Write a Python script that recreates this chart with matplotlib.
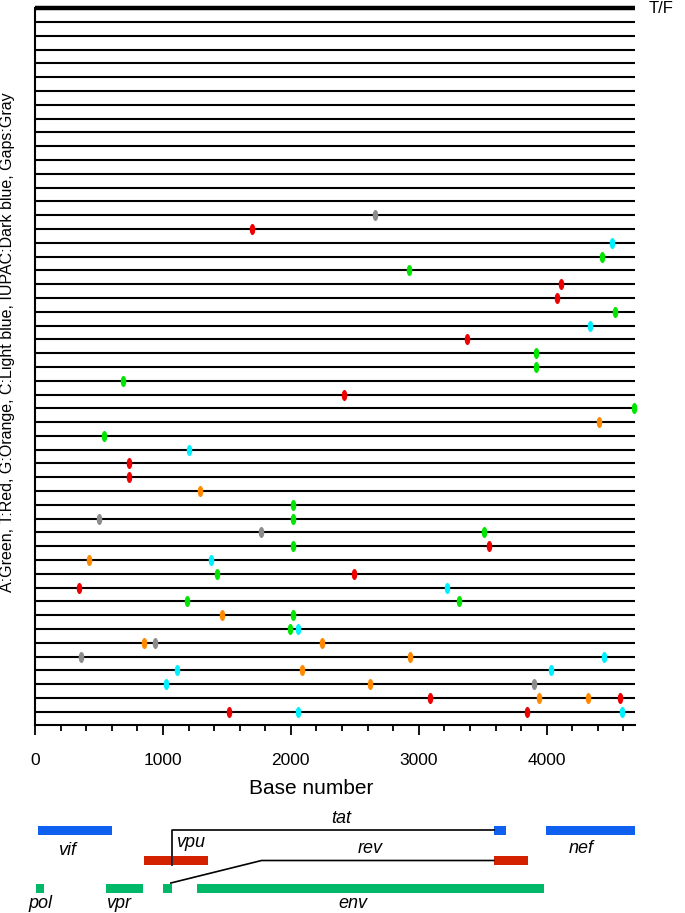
import numpy as np
import matplotlib
matplotlib.use("Agg")
import matplotlib.pyplot as plt
from matplotlib.markers import MarkerStyle
from matplotlib.transforms import Affine2D
from matplotlib.ticker import MultipleLocator

plt.rcParams['font.family'] = ['Liberation Sans', 'DejaVu Sans']

# sequences: row 0 is the T/F reference, rows 1..51 are the clones
n_rows = 51
seq_len = 4690

# mutations: row index, base position, base type
mut_row = [15, 16, 17, 18, 19, 20, 21, 22, 23, 24, 25, 26, 27, 28, 29, 30, 31, 32, 33, 34, 35, 36,
           37, 37, 38, 38, 39, 39, 40, 40, 41, 41, 42, 42, 43, 43, 44, 44, 45, 45,
           46, 46, 46, 47, 47, 47, 48, 48, 48, 49, 49, 49,
           50, 50, 50, 50, 51, 51, 51, 51]
mut_pos = [2659, 1696, 4509, 4430, 2922, 4111, 4080, 4536, 4341, 3378, 3919, 3913, 689, 2419, 4680, 4406, 541, 1203, 737, 737, 1288, 2014,
           504, 2014, 1764, 3512, 2014, 3549, 421, 1377, 1425, 2494, 343, 3217, 1189, 3313, 1459, 2014, 1990, 2056,
           850, 939, 2244, 360, 2929, 4450, 1107, 2086, 4032, 1021, 2621, 3899,
           3087, 3937, 4324, 4574, 1514, 2056, 3844, 4587]
mut_base = ['gap', 'T', 'C', 'A', 'A', 'T', 'T', 'A', 'C', 'T', 'A', 'A', 'A', 'T', 'A', 'G', 'A', 'C', 'T', 'T', 'G', 'A',
            'gap', 'A', 'gap', 'A', 'A', 'T', 'G', 'C', 'A', 'T', 'T', 'C', 'A', 'A', 'G', 'A', 'A', 'C',
            'G', 'gap', 'G', 'gap', 'G', 'C', 'C', 'G', 'C', 'C', 'G', 'gap',
            'T', 'G', 'G', 'T', 'T', 'C', 'T', 'C']

base_colors = {'A': '#00e600', 'T': '#ee0000', 'G': '#ff8a00', 'C': '#00f0ff', 'gap': '#8c8c8c'}

# genome map: name, start, end, lane
gene_name = ['vif', 'tat', 'nef', 'vpu1', 'vpu2', 'rev', 'pol', 'vpr', 'env1', 'env']
gene_start = [26, 3586, 3997, 852, 1081, 3586, 8, 555, 1003, 1263]
gene_end = [603, 3680, 4690, 1073, 1349, 3857, 73, 846, 1070, 3979]
gene_lane = ['blue', 'blue', 'blue', 'red', 'red', 'red', 'green', 'green', 'green', 'green']
lane_y = {'blue': 830, 'red': 860.5, 'green': 888}
lane_color = {'blue': '#1060f0', 'red': '#d42200', 'green': '#00b868'}

# labels in the genome map
label_text = ['tat', 'vif', 'vpu', 'rev', 'nef', 'pol', 'vpr', 'env']
label_x = [2396, 248, 1099, 2617, 4273, 39, 650, 2487]
label_y = [818, 850, 842, 848, 848, 903, 903, 903]
label_ha = ['center', 'center', 'left', 'center', 'center', 'center', 'center', 'center']

# splice connectors
tat_join = (1073, 3586)
rev_join = (1062, 1771, 3586)

W, H = 685, 913
fig = plt.figure(figsize=(W / 100, H / 100), dpi=100)

ax = fig.add_axes([35 / W, 1 - 725 / H, 600 / W, (725 - 8.3) / H])
ax.set_xlim(0, seq_len)
ax.set_ylim(n_rows + 0.96, 0)

ax.hlines(np.arange(1, n_rows + 1), 0, seq_len, color='black', lw=1.5)
ax.hlines(0, 0, seq_len, color='black', lw=3.2, clip_on=False)

ell = MarkerStyle('o', transform=Affine2D().scale(0.5, 1))
for b, c in base_colors.items():
    xs = [p for p, bb in zip(mut_pos, mut_base) if bb == b]
    ys = [r for r, bb in zip(mut_row, mut_base) if bb == b]
    ax.plot(xs, ys, ls='none', marker=ell, ms=8, color=c, mew=0, zorder=3, clip_on=False)

for s in ['top', 'right']:
    ax.spines[s].set_visible(False)
ax.spines['left'].set_linewidth(1.5)
ax.spines['bottom'].set_linewidth(1.5)
ax.set_yticks([])
ax.set_xticks(np.arange(0, 4001, 1000))
ax.xaxis.set_minor_locator(MultipleLocator(200))
ax.tick_params(axis='x', which='major', length=7, width=1.3, pad=13, labelsize=12.5)
ax.tick_params(axis='x', which='minor', length=4, width=1.3)

ax.text(seq_len * 1.022, 0, 'T/F', fontsize=12, va='center', ha='left')
fig.text(311 / W, 1 - 788 / H, 'Base number', fontsize=15, ha='center', va='center')
fig.text(8 / W, 1 - 342 / H, 'A:Green, T:Red, G:Orange, C:Light blue, IUPAC:Dark blue, Gaps:Gray',
         fontsize=11.5, rotation=90, ha='center', va='center')

# genome map
gax = fig.add_axes([35 / W, 0, 600 / W, 113 / H])
gax.set_xlim(0, seq_len)
gax.set_ylim(913, 800)
gax.axis('off')

for s, e, ln in zip(gene_start, gene_end, gene_lane):
    gax.barh(lane_y[ln], e - s, left=s, height=9, color=lane_color[ln], lw=0)

gax.plot([tat_join[0], tat_join[0], tat_join[1]], [lane_y['red'] + 4.5, lane_y['blue'], lane_y['blue']],
         color='black', lw=1.2, zorder=3)
gax.plot([rev_join[0], rev_join[1], rev_join[2]], [lane_y['green'] - 5, lane_y['red'], lane_y['red']],
         color='black', lw=1.2, zorder=3)

for t, x, y, ha in zip(label_text, label_x, label_y, label_ha):
    gax.text(x, y, t, fontsize=13, style='italic', ha=ha, va='center')

fig.savefig('out.png', dpi=100)
